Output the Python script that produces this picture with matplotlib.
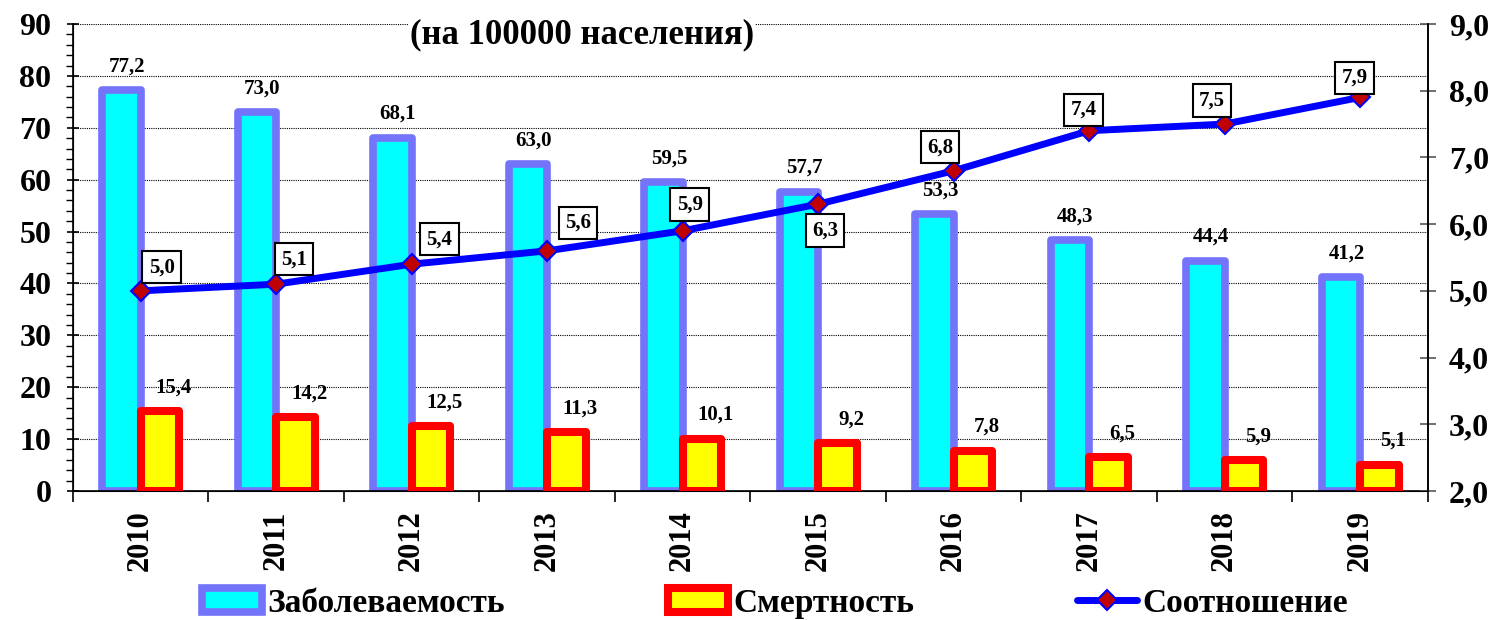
import matplotlib
matplotlib.use("Agg")
import matplotlib.pyplot as plt
from matplotlib.ticker import MultipleLocator, FixedLocator
import numpy as np

years = ["2010", "2011", "2012", "2013", "2014", "2015", "2016", "2017", "2018", "2019"]
incidence = [77.2, 73.0, 68.1, 63.0, 59.5, 57.7, 53.3, 48.3, 44.4, 41.2]
mortality = [15.4, 14.2, 12.5, 11.3, 10.1, 9.2, 7.8, 6.5, 5.9, 5.1]
ratio = [5.0, 5.1, 5.4, 5.6, 5.9, 6.3, 6.8, 7.4, 7.5, 7.9]

# label box offsets (points) for the ratio line
box_offsets = [(15, 17), (13, 18), (20, 18), (22, 20), (5, 19),
               (5, -19), (-10, 17), (-4, 15), (-9, 17), (-4, 14)]

plt.rcParams["font.family"] = ["Liberation Serif", "DejaVu Serif"]
plt.rcParams["font.weight"] = "bold"


def fmt(v):
    return f"{v:.1f}".replace(".", ",")


fig = plt.figure(figsize=(14.99, 6.2), dpi=100)
ax = fig.add_axes([0.0487, 0.2081, 0.9039, 0.7532])
x = np.arange(len(years))
w = 0.285

b1 = ax.bar(x - w / 2, incidence, w, color="#00FFFF", edgecolor="#7474fa",
            linewidth=5.5, joinstyle="round", label="Заболеваемость", zorder=2)
b2 = ax.bar(x + w / 2, mortality, w, color="#FFFF00", edgecolor="#FF0000",
            linewidth=5.8, joinstyle="round", label="Смертность", zorder=3)

for xi, v in zip(x, incidence):
    ax.annotate(fmt(v), (xi - w / 2, v), xytext=(4, 10), textcoords="offset points",
                ha="center", va="bottom", fontsize=15, fontweight="bold")
for xi, v in zip(x, mortality):
    ax.annotate(fmt(v), (xi + w / 2, v), xytext=(10, 10), textcoords="offset points",
                ha="center", va="bottom", fontsize=15, fontweight="bold")

ax.set_xlim(-0.5, len(years) - 0.5)
ax.set_ylim(0, 90)
ax.yaxis.set_major_locator(MultipleLocator(10))
ax.yaxis.set_minor_locator(MultipleLocator(2))
ax.grid(axis="y", which="major", linestyle=(0, (1, 1)), color="black", linewidth=0.8)
ax.set_axisbelow(True)
ax.tick_params(axis="y", which="major", direction="inout", length=9, width=1.2,
               labelsize=23, pad=11)
ax.tick_params(axis="y", which="minor", direction="out", length=5, width=1)

ax.set_xticks(x)
ax.set_xticklabels(years, rotation=90, fontsize=22, fontweight="bold")
ax.xaxis.set_minor_locator(FixedLocator(np.arange(-0.5, len(years), 1.0)))
ax.tick_params(axis="x", which="major", length=0, pad=14)
ax.tick_params(axis="x", which="minor", direction="out", length=8, width=1.2)
ax.spines["top"].set_visible(False)
for s in ["left", "bottom", "right"]:
    ax.spines[s].set_linewidth(1.2)

ax2 = ax.twinx()
ln, = ax2.plot(x, ratio, color="#0000FF", linewidth=5, marker="D", markersize=10,
               markerfacecolor="#C00000", markeredgecolor="#0000FF", markeredgewidth=1.5,
               solid_capstyle="round", label="Соотношение", zorder=4)
ax2.set_ylim(2, 9)
ax2.set_yticks(range(2, 10))
ax2.set_yticklabels([fmt(v) for v in range(2, 10)])
ax2.tick_params(axis="y", direction="inout", length=12, width=1.2, labelsize=23,
                pad=9, color="#555555")
ax2.spines["top"].set_visible(False)
ax2.spines["right"].set_linewidth(1.2)

for xi, v, off in zip(x, ratio, box_offsets):
    ax2.annotate(fmt(v), (xi, v), xytext=off, textcoords="offset points",
                 ha="center", va="center", fontsize=15, fontweight="bold", zorder=6,
                 bbox=dict(boxstyle="square,pad=0.3", fc="white", ec="black", lw=1.5))

fig.text(0.388, 0.944, "(на 100000 населения)", ha="center", va="center",
         fontsize=25, fontweight="bold",
         bbox=dict(fc="white", ec="none", pad=1))

fig.legend([b1, b2, ln], ["Заболеваемость", "Смертность", "Соотношение"],
           loc="center", bbox_to_anchor=(0.517, 0.027), ncol=3, frameon=False,
           fontsize=24, columnspacing=4.9, handlelength=1.8, handletextpad=0.15,
           borderaxespad=0)

fig.savefig("out.png", dpi=100)
